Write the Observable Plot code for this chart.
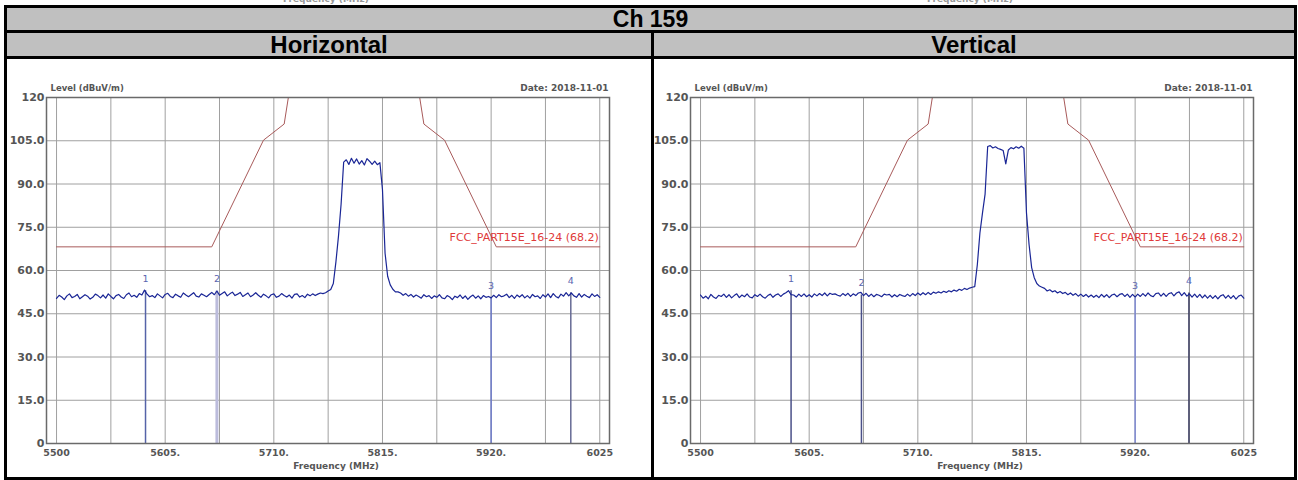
<!DOCTYPE html>
<html><head><meta charset="utf-8">
<script src="https://cdn.jsdelivr.net/npm/d3@7"></script>
<script src="https://cdn.jsdelivr.net/npm/@observablehq/plot@0.6"></script>
<style>
body{margin:0;width:1298px;height:480px;position:relative;background:#fff;overflow:hidden;font-family:"Liberation Sans",Arial,sans-serif;}
.abs{position:absolute}
.hdr{background:#c0c0c0;font-weight:bold;font-size:23px;text-align:center;color:#000}
.cap{font-family:"DejaVu Sans";font-weight:bold;font-size:9px;color:#999;white-space:nowrap}
.chart{position:absolute;top:59px}
</style></head><body>
<div class="abs" style="left:0;top:0;width:1298px;height:5px;overflow:hidden">
  <div class="abs cap" style="left:283px;top:-6px">Frequency (MHz)</div>
  <div class="abs cap" style="left:927px;top:-6px">Frequency (MHz)</div>
</div>
<div class="abs" style="left:4px;top:5px;width:1293px;height:475px;background:#000"></div>
<div class="abs hdr" style="left:7px;top:8px;width:1287px;height:22px;line-height:23px">Ch 159</div>
<div class="abs hdr" style="left:7px;top:33px;width:644px;height:23px;line-height:24px;font-size:24px">Horizontal</div>
<div class="abs hdr" style="left:654px;top:33px;width:640px;height:23px;line-height:24px;font-size:24px">Vertical</div>
<div class="abs" style="left:7px;top:59px;width:644px;height:418px;background:#fff"></div>
<div class="abs" style="left:654px;top:59px;width:640px;height:418px;background:#fff"></div>
<div id="chartH" class="chart" style="left:8px"></div>
<div id="chartV" class="chart" style="left:652px"></div>
<script>
// ---- data ----
const sweepStart = 5500;   // MHz
const sweepStep = 2.5;     // MHz per trace point

const levelH = [
50.3,51.4,50.8,49.9,51.2,51.9,50.6,51.0,51.7,50.2,
50.9,51.6,51.1,50.1,50.7,51.8,51.3,50.5,51.5,50.4,
51.9,51.0,50.2,51.3,51.7,50.8,50.3,51.6,52.2,50.9,
51.4,50.7,52.0,51.5,53.2,51.8,50.9,51.3,50.6,51.9,
51.2,50.5,51.7,52.1,51.0,50.6,51.8,51.2,50.7,52.2,
51.5,50.9,51.6,52.3,51.1,50.8,51.9,51.4,50.9,51.7,
52.4,51.6,52.9,51.4,52.0,52.6,51.2,51.9,52.5,51.3,
51.8,52.4,51.0,51.6,52.2,50.9,51.5,52.3,51.4,50.7,
51.8,51.2,50.5,51.6,51.9,50.7,51.1,52.0,51.3,50.8,
51.5,50.4,51.7,51.9,50.8,51.3,50.6,51.8,51.2,51.9,
51.3,51.8,52.2,52.0,
52.3,52.9,53.4,55.5,63.0,72.0,83.0,97.6,
98.4,96.8,98.9,97.2,98.7,96.9,98.1,96.6,98.8,97.9,96.8,97.9,96.7,
97.4,88.0,66.0,58.0,55.0,53.5,52.6,52.6,
52.2,51.4,52.0,51.1,51.7,50.8,51.5,
51.0,50.4,51.6,50.9,51.3,50.3,51.2,50.7,51.6,50.5,
50.2,51.3,50.8,49.9,51.1,50.6,51.5,50.3,51.2,50.0,
50.9,51.5,50.4,51.2,50.2,51.3,50.7,51.0,50.5,51.4,
50.6,51.6,50.9,51.2,51.8,50.6,51.4,50.3,51.5,50.8,
51.6,50.5,51.3,50.4,51.7,50.9,51.2,50.3,51.6,50.8,
51.9,50.6,52.0,51.0,50.5,51.8,51.1,52.3,51.2,52.2,
51.2,50.7,52.0,50.8,51.7,51.1,50.6,51.9,51.0,51.6,50.7
];

const levelV = [
51.5,50.4,51.1,50.2,51.7,50.8,50.3,51.4,51.0,51.8,
50.7,51.6,50.5,51.3,51.9,50.6,51.5,50.9,51.9,50.8,
50.5,51.6,51.0,51.8,50.9,50.4,51.3,51.8,50.7,51.5,
51.9,51.0,51.8,52.3,53.0,51.6,51.5,50.8,51.8,51.0,
51.9,50.9,51.6,50.8,51.9,51.2,52.0,51.3,52.2,51.2,
52.1,51.7,51.9,51.4,51.1,52.0,51.3,52.1,51.0,51.9,
51.3,52.2,52.4,51.3,52.1,51.0,51.8,50.9,51.7,51.4,
50.9,51.8,51.5,51.7,50.8,51.6,50.9,51.7,51.3,51.0,
51.8,51.1,52.0,51.3,52.2,51.5,52.3,51.6,52.4,51.7,
52.5,52.1,52.6,52.2,52.8,52.4,53.0,52.6,53.2,52.8,
53.5,53.1,53.8,53.4,
53.9,54.2,54.4,62.0,73.0,80.0,86.5,103.0,
103.3,102.5,102.9,102.3,102.0,101.6,97.0,101.8,102.6,102.2,102.9,102.4,103.1,
102.4,80.0,69.0,61.0,57.5,55.5,54.6,54.2,
53.8,52.9,53.3,52.6,53.0,52.2,52.7,
52.0,52.4,51.6,52.2,51.4,52.0,51.1,51.8,51.0,51.7,
50.8,51.5,50.7,51.4,50.6,51.7,50.8,51.6,50.6,51.5,
51.8,50.9,51.7,52.0,51.0,51.8,50.7,51.7,50.8,51.8,
51.0,52.0,51.1,52.2,51.3,50.9,52.0,52.2,51.1,52.1,
51.0,52.0,52.3,51.2,52.2,52.6,51.3,52.3,51.1,51.9,
50.8,51.8,50.7,51.7,50.5,51.5,50.4,51.4,50.3,51.3,
50.2,51.2,51.6,50.4,51.4,50.3,51.3,50.1,51.1,51.5,50.4
];

// FCC Part 15E limit line (dBµV/m)
const limitFreq  = [5500, 5650, 5700, 5720, 5725, 5850, 5855, 5875, 5925, 6025];
const limitLevel = [68.2, 68.2, 105.2, 110.8, 122.2, 122.2, 110.8, 105.2, 68.2, 68.2];
const limitName = "FCC_PART15E_16-24 (68.2)";

const markerLabels = ["1", "2", "3", "4"];
const markerFreqH  = [5586, 5655, 5920, 5997];
const markerLevelH = [53.0, 52.8, 50.5, 52.3];
const markerFreqV  = [5587.5, 5655.5, 5920, 5972];
const markerLevelV = [53.0, 51.5, 50.4, 52.2];

const xTicks = [5500, 5605, 5710, 5815, 5920, 6025];
const xTickLabels = ["5500", "5605.", "5710.", "5815.", "5920.", "6025"];
const yTicks = [0, 15, 30, 45, 60, 75, 90, 105, 120];
const yTickLabels = ["0", "15.0", "30.0", "45.0", "60.0", "75.0", "90.0", "105.0", "120"];
const gridX = [5500, 5552.5, 5605, 5657.5, 5710, 5762.5, 5815, 5867.5, 5920, 5972.5, 6025];

const yTitle = "Level (dBuV/m)";
const xTitle = "Frequency (MHz)";
const dateText = "Date: 2018-11-01";

function chart(levels, mFreq, mLevel, mColors, mWidths) {
  const trace = levels.map((v, i) => ({f: sweepStart + i * sweepStep, v}));
  const limit = limitFreq.map((f, i) => ({f, v: limitLevel[i]}));
  const markers = mFreq.map((f, i) => ({f, v: mLevel[i], label: markerLabels[i], c: mColors[i], w: mWidths[i]}));
  const txt = {fontFamily: "DejaVu Sans", fontWeight: "bold"};
  return Plot.plot({
    width: 640, height: 418,
    marginLeft: 38, marginRight: 39, marginTop: 38, marginBottom: 34,
    x: {domain: [5490.3, 6034.4]},
    y: {domain: [0, 120]},
    style: {background: "transparent", overflow: "visible", fontFamily: "DejaVu Sans"},
    marks: [
      Plot.ruleX(gridX, {stroke: "#a0a0a0", strokeWidth: 1}),
      Plot.ruleY(yTicks, {stroke: "#a0a0a0", strokeWidth: 1}),
      ...markers.map(m => Plot.ruleX([m], {x: "f", y1: 0, y2: "v", stroke: m.c, strokeWidth: m.w})),
      Plot.line(limit, {x: "f", y: "v", stroke: "#a85a5a", strokeWidth: 1, clip: true}),
      Plot.text([limitName], {x: 6024, y: 68.2, dy: -9, textAnchor: "end", fill: "#e03a3a", fontSize: 11, fontFamily: "DejaVu Sans"}),
      Plot.line(trace, {x: "f", y: "v", stroke: "#1a2696", strokeWidth: 1.2}),
      Plot.text(markers, {x: "f", y: "v", dy: -12, text: "label", fill: "#5a66b0", fontSize: 9.5, fontFamily: "DejaVu Sans"}),
      Plot.frame({stroke: "#6a6a6a", strokeWidth: 1.5}),
      Plot.axisY({ticks: yTicks, tickFormat: d => yTickLabels[yTicks.indexOf(d)], tickSize: 0, tickPadding: 2, fontSize: 11, fill: "#555", label: null, ...txt}),
      Plot.axisX({ticks: xTicks, tickFormat: d => xTickLabels[xTicks.indexOf(d)], tickSize: 0, tickPadding: 6, fontSize: 9.5, fill: "#555", label: null, ...txt}),
      Plot.text([yTitle], {frameAnchor: "top-left", dx: 4, dy: -9, lineAnchor: "middle", textAnchor: "start", fontSize: 8.5, fill: "#555", ...txt}),
      Plot.text([dateText], {frameAnchor: "top-right", dx: -1, dy: -9, lineAnchor: "middle", textAnchor: "end", fontSize: 9, fill: "#555", ...txt}),
      Plot.text([xTitle], {frameAnchor: "bottom", dx: 8, dy: 23, lineAnchor: "middle", fontSize: 9, fill: "#555", ...txt})
    ]
  });
}

document.getElementById("chartH").append(
  chart(levelH, markerFreqH, markerLevelH, ["#5563a8", "#bcbcdc", "#6b78c8", "#666a94"], [1.5, 3, 1.5, 1.5]));
document.getElementById("chartV").append(
  chart(levelV, markerFreqV, markerLevelV, ["#4a5088", "#4a5088", "#7d88d2", "#3c3e62"], [1.5, 1.5, 1.5, 1.5]));
</script>
</body></html>
